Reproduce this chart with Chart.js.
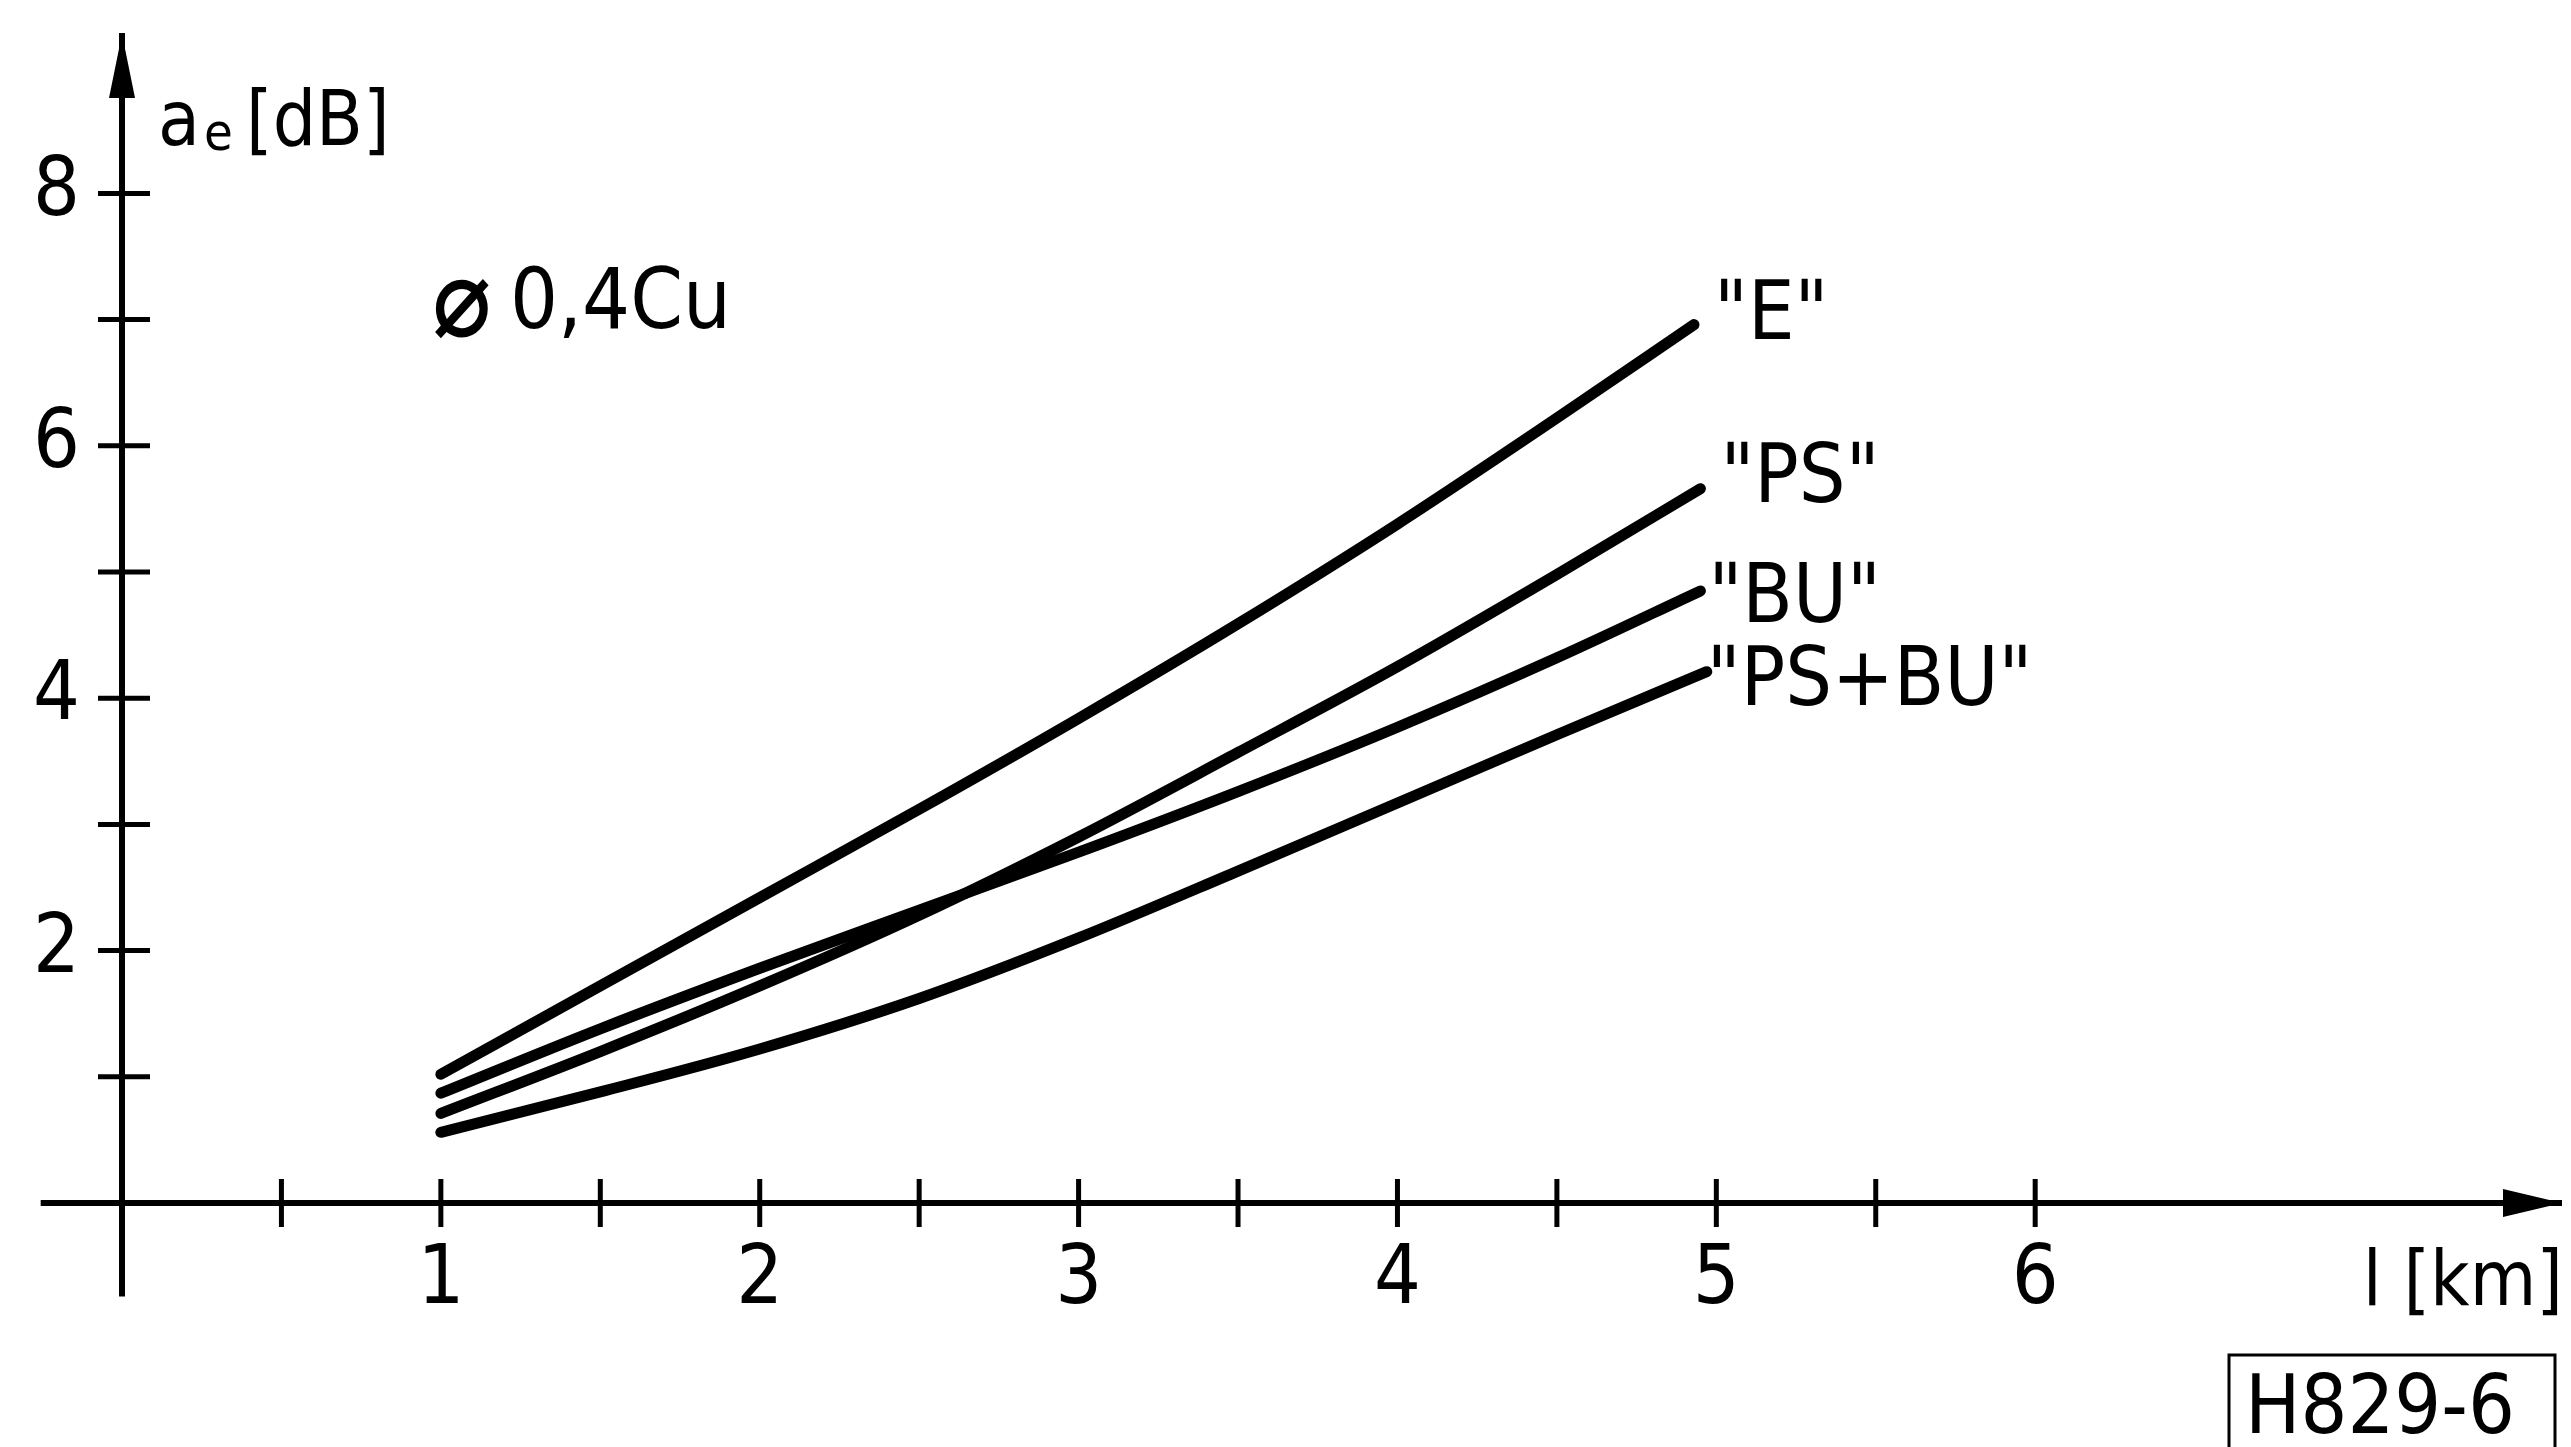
<!DOCTYPE html>
<html>
<head>
<meta charset="utf-8">
<script src="https://cdn.jsdelivr.net/npm/chart.js@4.4.1/dist/chart.umd.min.js"></script>
<style>
  html, body { margin: 0; padding: 0; background: #ffffff; }
  #wrap { width: 2571px; height: 1447px; position: relative; }
</style>
</head>
<body>
<div id="wrap"><canvas id="c" width="2571" height="1447"></canvas></div>
<script>
// ---------- data ----------
const seriesNames = ['"E"', '"PS"', '"BU"', '"PS+BU"'];
const xE    = [1.0, 1.5, 2.0, 2.5, 3.0, 3.5, 4.0, 4.5, 4.93];
const yE    = [1.02, 1.72, 2.42, 3.12, 3.84, 4.59, 5.38, 6.22, 6.96];
const xPS   = [1.0, 1.5, 2.0, 2.5, 3.0, 3.5, 4.0, 4.5, 4.95];
const yPS   = [0.71, 1.20, 1.72, 2.28, 2.90, 3.57, 4.25, 4.98, 5.66];
const xBU   = [1.0, 1.5, 2.0, 2.5, 3.0, 3.5, 4.0, 4.5, 4.95];
const yBU   = [0.87, 1.38, 1.86, 2.32, 2.78, 3.26, 3.77, 4.32, 4.85];
const xPSBU = [1.0, 1.5, 2.0, 2.5, 3.0, 3.5, 4.0, 4.5, 4.97];
const yPSBU = [0.56, 0.88, 1.22, 1.62, 2.10, 2.63, 3.17, 3.71, 4.21];

const xTicks      = [0.5, 1, 1.5, 2, 2.5, 3, 3.5, 4, 4.5, 5, 5.5, 6];
const xTickLabels = ['', '1', '', '2', '', '3', '', '4', '', '5', '', '6'];
const yTicks      = [1, 2, 3, 4, 5, 6, 7, 8];
const yTickLabels = ['', '2', '', '4', '', '6', '', '8'];

const xAxisTitle = 'l [km]';
const yAxisTitleMain = 'a';
const yAxisTitleSub = 'e';
const yAxisTitleUnit = '[dB]';
const cableNoteSymbol = '\u2300';
const cableNoteText = '0,4Cu';
const figureCode = 'H829-6';

// ---------- styling / layout ----------
const FONT = '"DejaVu Sans Condensed", "DejaVu Sans", sans-serif';
const X_MIN = 0, X_MAX = 7.649, X_EXT = -0.255;
const Y_MIN = 0, Y_MAX = 9.247, Y_EXT = -0.74;

function pts(xs, ys) { return xs.map((x, i) => ({ x: x, y: ys[i] })); }
const seriesData = [pts(xE, yE), pts(xPS, yPS), pts(xBU, yBU), pts(xPSBU, yPSBU)];
const labelOffsets = [[20, 14], [20, 13], [8, 31], [0, 33]];

const decor = {
  id: 'decor',
  afterDraw(chart) {
    const ctx = chart.ctx;
    const xs = chart.scales.x, ys = chart.scales.y;
    const x0 = xs.getPixelForValue(0), y0 = ys.getPixelForValue(0);
    const xEnd = xs.getPixelForValue(X_MAX), yTop = ys.getPixelForValue(Y_MAX);
    ctx.save();
    ctx.strokeStyle = '#000';
    ctx.fillStyle = '#000';
    // axis extensions beyond the origin
    ctx.lineWidth = 6;
    ctx.lineCap = 'butt';
    ctx.beginPath();
    ctx.moveTo(xs.getPixelForValue(X_EXT), y0); ctx.lineTo(x0 + 3, y0);
    ctx.moveTo(x0, y0 - 3); ctx.lineTo(x0, ys.getPixelForValue(Y_EXT));
    ctx.stroke();
    // crossing tick marks
    ctx.lineWidth = 5;
    ctx.beginPath();
    xs.ticks.forEach(t => {
      const p = xs.getPixelForValue(t.value);
      ctx.moveTo(p, y0 - 24); ctx.lineTo(p, y0 + 24);
    });
    ys.ticks.forEach(t => {
      const p = ys.getPixelForValue(t.value);
      ctx.moveTo(x0 - 24, p); ctx.lineTo(x0 + 28, p);
    });
    ctx.stroke();
    // arrow heads
    ctx.beginPath();
    ctx.moveTo(x0, yTop - 2);
    ctx.lineTo(x0 + 13, yTop + 62);
    ctx.lineTo(x0 - 13, yTop + 62);
    ctx.closePath();
    ctx.fill();
    ctx.beginPath();
    ctx.moveTo(xEnd + 1, y0);
    ctx.lineTo(xEnd - 58, y0 - 14);
    ctx.lineTo(xEnd - 58, y0 + 14);
    ctx.closePath();
    ctx.fill();

    // axis titles
    ctx.textBaseline = 'alphabetic';
    ctx.textAlign = 'left';
    ctx.font = '76px ' + FONT;
    ctx.fillText(yAxisTitleMain, 158, 145);
    ctx.font = '52px ' + FONT;
    ctx.fillText(yAxisTitleSub, 204, 150);
    ctx.font = '76px ' + FONT;
    ctx.fillText(yAxisTitleUnit, 246, 145);

    ctx.textAlign = 'right';
    ctx.font = '76px ' + FONT;
    ctx.fillText(xAxisTitle, 2563, 1305);

    // cable note
    ctx.textAlign = 'left';
    ctx.font = 'bold 110px ' + FONT;
    ctx.fillText(cableNoteSymbol, 432, 336);
    ctx.font = '84px ' + FONT;
    ctx.fillText(cableNoteText, 510, 328);

    // curve labels
    ctx.font = '82px ' + FONT;
    seriesData.forEach((d, i) => {
      const last = d[d.length - 1];
      const px = xs.getPixelForValue(last.x) + labelOffsets[i][0];
      const py = ys.getPixelForValue(last.y) + labelOffsets[i][1];
      ctx.fillText(seriesNames[i], px, py);
    });

    // figure code box
    ctx.lineWidth = 3;
    ctx.beginPath();
    ctx.moveTo(2229, 1452); ctx.lineTo(2229, 1355); ctx.lineTo(2555, 1355); ctx.lineTo(2555, 1452);
    ctx.stroke();
    ctx.font = '82px ' + FONT;
    ctx.fillText(figureCode, 2245, 1433);
    ctx.restore();
  }
};

function zeroPad(scale) {
  scale.paddingLeft = 0; scale.paddingRight = 0;
  scale.paddingTop = 0; scale.paddingBottom = 0;
}

const chart = new Chart(document.getElementById('c'), {
  type: 'scatter',
  data: {
    datasets: seriesData.map((d, i) => ({
      label: seriesNames[i],
      data: d,
      showLine: true,
      borderColor: '#000',
      backgroundColor: '#000',
      borderWidth: 11,
      borderCapStyle: 'round',
      borderJoinStyle: 'round',
      pointRadius: 0,
      cubicInterpolationMode: 'monotone'
    }))
  },
  options: {
    responsive: false,
    animation: false,
    devicePixelRatio: 1,
    layout: { padding: { left: 0, right: 10, top: 36, bottom: 0 } },
    plugins: { legend: { display: false }, tooltip: { enabled: false } },
    scales: {
      x: {
        type: 'linear',
        position: 'bottom',
        min: X_MIN, max: X_MAX,
        grid: { display: false },
        border: { display: true, color: '#000', width: 6 },
        afterBuildTicks: (s) => { s.ticks = xTicks.map(v => ({ value: v })); },
        afterFit: (s) => { s.height = 244; zeroPad(s); },
        ticks: {
          autoSkip: false, maxRotation: 0, minRotation: 0,
          padding: 22,
          color: '#000',
          font: { family: FONT, size: 82 },
          callback: (v, i) => xTickLabels[i]
        }
      },
      y: {
        type: 'linear',
        position: 'left',
        min: Y_MIN, max: Y_MAX,
        grid: { display: false },
        border: { display: true, color: '#000', width: 6 },
        afterBuildTicks: (s) => { s.ticks = yTicks.map(v => ({ value: v })); },
        afterFit: (s) => { s.width = 122; zeroPad(s); },
        ticks: {
          autoSkip: false,
          padding: 34,
          color: '#000',
          font: { family: FONT, size: 82 },
          callback: (v, i) => yTickLabels[i]
        }
      }
    }
  },
  plugins: [decor]
});
</script>
</body>
</html>
